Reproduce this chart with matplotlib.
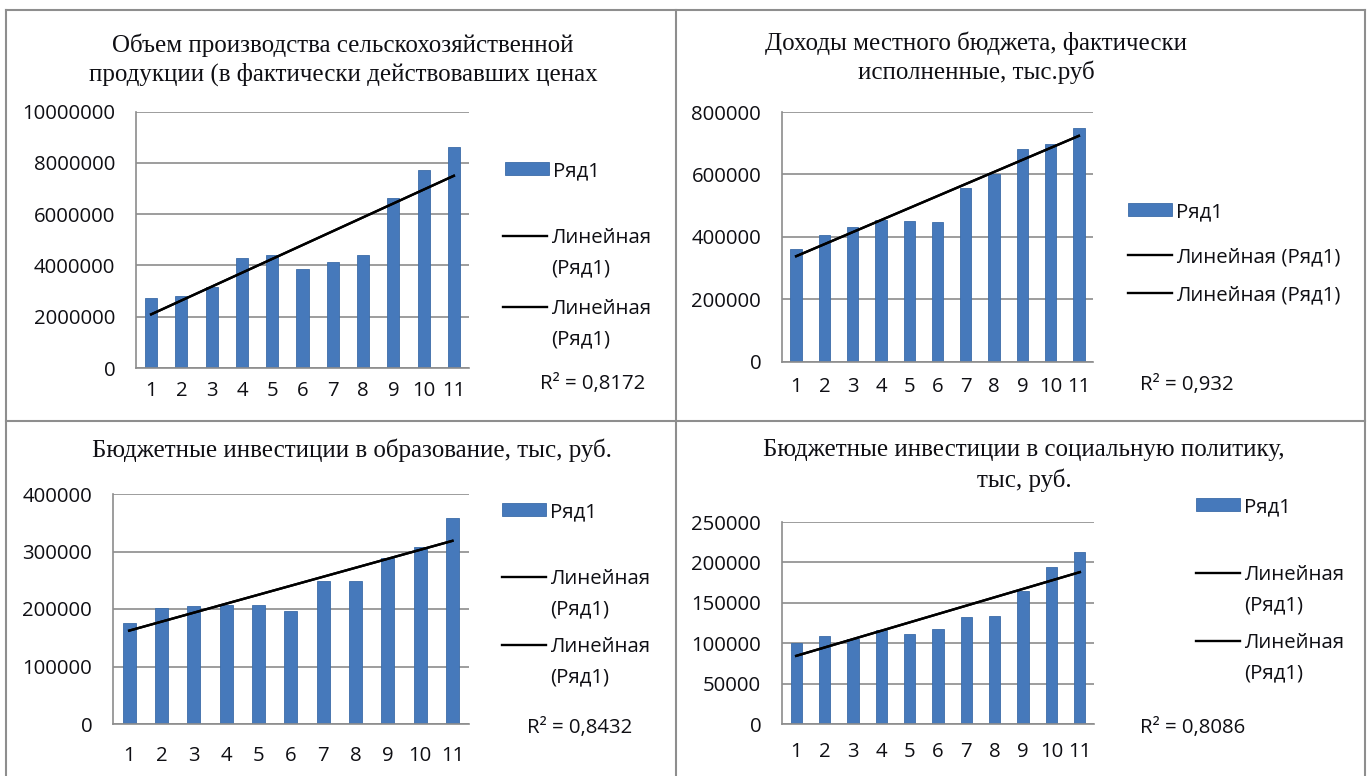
import numpy as np
import matplotlib
matplotlib.use("Agg")
import matplotlib.pyplot as plt
from matplotlib.lines import Line2D

W, H = 1370, 776

# ---------------- data ----------------
categories = list(range(1, 12))
tick_labels = [str(c) for c in categories]

titles = [
    "Объем производства сельскохозяйственной\nпродукции (в фактически действовавших ценах",
    "Доходы местного бюджета, фактически\nисполненные, тыс.руб",
    "Бюджетные инвестиции в образование, тыс, руб.",
    "Бюджетные инвестиции в социальную политику,\nтыс, руб.",
]

agri_output = [2710000, 2820000, 3150000, 4300000, 4400000, 3860000,
               4120000, 4410000, 6630000, 7720000, 8600000]
budget_income = [362000, 407000, 430000, 454000, 452000, 448000,
                 555000, 601000, 680000, 698000, 749000]
edu_invest = [176000, 201000, 205000, 207000, 207000, 197000,
              248000, 248000, 289000, 308000, 359000]
social_invest = [100000, 109500, 105000, 116000, 111000, 118000,
                 132000, 134000, 165000, 194000, 213000]

y_max = [10000000, 800000, 400000, 250000]
y_step = [2000000, 200000, 100000, 50000]
r2_labels = ["R² = 0,8172", "R² = 0,932", "R² = 0,8432", "R² = 0,8086"]
series_name = "Ряд1"
trend_name = "Линейная (Ряд1)"

series = [agri_output, budget_income, edu_invest, social_invest]

# ---------------- layout (pixels) ----------------
layout = [
    dict(ax=(136, 111.5, 469, 368), title_x=343, title_y=[45, 74], xpad=9.4,
         patch=(505, 171), lines=[(503, 238), (503, 309)], wrap=True,
         r2=(540, 384)),
    dict(ax=(782, 112, 1093, 361.5), title_x=976, title_y=[43, 72], xpad=10.8,
         patch=(1128, 212), lines=[(1128, 257), (1128, 295)], wrap=False,
         r2=(1140, 385)),
    dict(ax=(113, 494, 468.6, 724), title_x=352, title_y=[450], xpad=15.8,
         patch=(502, 512), lines=[(502, 579), (502, 647)], wrap=True,
         r2=(527, 728)),
    dict(ax=(782, 522, 1094, 724), title_x=1024, title_y=[450, 480], xpad=13,
         patch=(1196, 507), lines=[(1196, 575), (1196, 643)], wrap=True,
         r2=(1140, 728)),
]

BAR = "#4679BB"
GRID = "#8C8C8C"
SANS = ["Open Sans", "DejaVu Sans"]
SERIF = ["Liberation Serif", "DejaVu Serif"]
FS = 14.7
TITLE_FS = 18
TXT = "#0F0F14"
fs_px = FS * 100 / 72

fig = plt.figure(figsize=(W / 100, H / 100), dpi=100)
fig.patch.set_facecolor("white")


def fx(x):
    return x / W


def fy(y):
    return 1 - y / H


# panel frame lines
frame_kw = dict(color="#8E8E8E", lw=1.5, transform=fig.transFigure)
fig.add_artist(Line2D([fx(6), fx(1365)], [fy(10), fy(10)], **frame_kw))
fig.add_artist(Line2D([fx(6), fx(6)], [fy(10), fy(780)], **frame_kw))
fig.add_artist(Line2D([fx(1365), fx(1365)], [fy(10), fy(780)], **frame_kw))
fig.add_artist(Line2D([fx(676), fx(676)], [fy(10), fy(780)], **frame_kw))
fig.add_artist(Line2D([fx(6), fx(1365)], [fy(421), fy(421)], **frame_kw))

x = np.array(categories, dtype=float)

for i, (vals, lay) in enumerate(zip(series, layout)):
    l, t, r, b = lay["ax"]
    ax = fig.add_axes([fx(l), fy(b), (r - l) / W, (b - t) / H])
    bars = ax.bar(x, vals, width=0.4, color=BAR, edgecolor="#3C6CA8",
                  linewidth=0.6, zorder=2)
    k, c0 = np.polyfit(x, np.array(vals, dtype=float), 1)
    trend = k * x + c0
    line1, = ax.plot(x, trend, color="black", lw=1.7, zorder=3)
    line2, = ax.plot(x, trend, color="black", lw=1.7, zorder=3)

    ax.set_xlim(0.5, 11.5)
    ax.set_ylim(0, y_max[i])
    ticks = np.arange(0, y_max[i] + 1, y_step[i])
    ax.set_yticks(ticks)
    ax.set_yticklabels([str(int(v)) for v in ticks])
    ax.set_xticks(x)
    ax.set_xticklabels(tick_labels)
    ax.grid(axis="y", color=GRID, lw=1.2, zorder=0)
    ax.set_axisbelow(True)
    for s in ["top", "right"]:
        ax.spines[s].set_visible(False)
    for s in ["left", "bottom"]:
        ax.spines[s].set_color(GRID)
        ax.spines[s].set_linewidth(1.2)
    ax.tick_params(axis="y", length=0, pad=15, labelsize=FS, labelcolor=TXT)
    ax.tick_params(axis="x", length=0, pad=lay["xpad"], labelsize=FS,
                   labelcolor=TXT)
    for lab in ax.get_xticklabels() + ax.get_yticklabels():
        lab.set_fontfamily(SANS)

    # title
    for line_txt, ty in zip(titles[i].split("\n"), lay["title_y"]):
        fig.text(fx(lay["title_x"]), fy(ty), line_txt, ha="center", va="center",
                 fontsize=TITLE_FS, family=SERIF, color=TXT)

    # legend entries
    prop = dict(family=SANS, size=FS)
    hl = 44 / fs_px
    htp = 0.18
    px_, py_ = lay["patch"]
    fig.legend(handles=[bars], labels=[series_name], loc="center left",
               bbox_to_anchor=(fx(px_), fy(py_)), frameon=False, borderpad=0,
               borderaxespad=0, handlelength=hl, handleheight=0.6,
               handletextpad=htp, prop=prop, labelcolor=TXT)
    for (lx, ly), h in zip(lay["lines"], [line1, line2]):
        if lay["wrap"]:
            first, second = trend_name.split(" ")
        else:
            first, second = trend_name, None
        fig.legend(handles=[h], labels=[first], loc="center left",
                   bbox_to_anchor=(fx(lx), fy(ly)), frameon=False, borderpad=0,
                   borderaxespad=0, handlelength=hl, handletextpad=htp,
                   prop=prop, labelcolor=TXT)
        if second:
            tx = lx + (hl + htp) * fs_px
            fig.text(fx(tx), fy(ly + 30), second, ha="left", va="center",
                     fontsize=FS, family=SANS, color=TXT)

    rx, ry = lay["r2"]
    fig.text(fx(rx), fy(ry), r2_labels[i], ha="left", va="center",
             fontsize=FS, family=SANS, color=TXT)

fig.savefig("out.png", dpi=100, facecolor="white")
